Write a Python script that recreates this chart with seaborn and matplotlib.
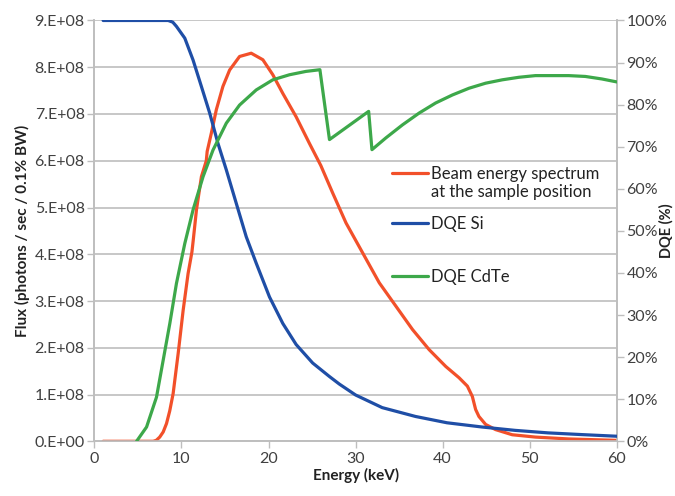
import matplotlib
matplotlib.use("Agg")
import matplotlib.pyplot as plt
import seaborn as sns
import numpy as np
from matplotlib.ticker import FuncFormatter, MultipleLocator
from matplotlib.lines import Line2D
from matplotlib.legend_handler import HandlerLine2D

# ---- data ----
beam_E = [1, 6.75, 7.1, 7.5, 7.9, 8.28, 8.65, 9.04, 9.62, 10.19, 10.76, 11.2, 11.35, 11.72,
          12.29, 12.85, 12.95, 13.43, 14.0, 14.76, 15.53, 16.67, 18.01, 19.35, 20.49, 21.64,
          23.17, 24.7, 26.0, 27.37, 28.9, 30.81, 32.72, 34.63, 36.54, 38.45, 40.36, 41.88,
          42.84, 43.41, 43.79, 44.17, 44.94, 46.08, 47.99, 50.66, 54.48, 60.0]
beam_flux = [0, 0, 0.02, 0.09, 0.2, 0.38, 0.65, 1.02, 1.88, 2.8, 3.59, 4.05, 4.3, 4.95,
             5.66, 6.0, 6.2, 6.59, 7.09, 7.59, 7.94, 8.23, 8.30, 8.16, 7.84, 7.44,
             6.94, 6.37, 5.9, 5.31, 4.67, 4.03, 3.39, 2.89, 2.39, 1.96, 1.60, 1.36,
             1.18, 0.96, 0.68, 0.53, 0.36, 0.25, 0.14, 0.09, 0.05, 0.02]  # in units of 1e8

si_E = [1, 8.47, 9.0, 9.42, 10.38, 11.33, 12.29, 13.24, 14.19, 15.15, 16.3, 17.44, 18.59,
        20.11, 21.64, 23.17, 25.07, 26.99, 28.13, 30.0, 33.06, 36.88, 40.5, 44.5, 48.3, 52.1,
        55.9, 60.0]
si_dqe = [100, 100, 99.6, 98.6, 95.8, 90.6, 84.3, 78.0, 70.8, 64.5, 56.5, 48.6, 42.3,
          34.3, 28.0, 23.0, 18.6, 15.4, 13.6, 11.0, 8.0, 5.9, 4.4, 3.4, 2.6, 2.0,
          1.6, 1.2]

cdte_E = [4.84, 5.99, 7.13, 7.9, 8.66, 9.42, 10.38, 11.33, 12.48, 13.62, 15.15, 16.67, 18.59,
          20.49, 22.4, 24.3, 25.9, 27.0, 31.5, 31.88, 33.48, 35.39, 37.3, 39.2, 41.12, 43.03,
          44.94, 46.85, 48.75, 50.66, 52.57, 54.48, 56.39, 58.3, 60.0]
cdte_dqe = [0, 3.4, 10.5, 19.3, 28.0, 37.5, 47.0, 55.0, 62.9, 69.2, 75.6, 79.9, 83.5,
            85.9, 87.1, 87.9, 88.3, 71.7, 78.4, 69.3, 72.1, 75.2, 78.0, 80.4, 82.3, 83.9,
            85.1, 85.9, 86.5, 86.9, 86.9, 86.9, 86.7, 86.1, 85.4]

x_ticks = [0, 10, 20, 30, 40, 50, 60]
labels = ["Beam energy spectrum\nat the sample position", "DQE Si", "DQE CdTe"]

RED = "#F2502A"
BLUE = "#1F4EA6"
GREEN = "#3DA84A"
GRID = "#BEBEBE"
TXT = "#404040"
LAB = "#222222"
LW = 2.3

sns.set_theme(style="white")
plt.rcParams["font.family"] = ["Lato", "DejaVu Sans"]

fig = plt.figure(figsize=(6.75, 4.96), dpi=100)
ax = fig.add_axes([0.1399, 0.1103, 0.7738, 0.8484])
ax2 = ax.twinx()

flux = np.array(beam_flux) * 1e8
sns.lineplot(x=beam_E, y=flux, ax=ax, color=RED, lw=LW, sort=False, zorder=3)
sns.lineplot(x=si_E, y=si_dqe, ax=ax2, color=BLUE, lw=LW, sort=False, zorder=3)
sns.lineplot(x=cdte_E, y=cdte_dqe, ax=ax2, color=GREEN, lw=LW, sort=False, zorder=3)

ax.set_xlim(0, 60)
ax.set_ylim(0, 9e8)
ax2.set_ylim(0, 100)
ax.set_xticks(x_ticks)
ax.yaxis.set_major_locator(MultipleLocator(1e8))
ax2.yaxis.set_major_locator(MultipleLocator(10))

def sci(v, pos):
    if abs(v) < 1:
        return "0.E+00"
    return f"{v / 1e8:.0f}.E+08"
ax.yaxis.set_major_formatter(FuncFormatter(sci))
ax2.yaxis.set_major_formatter(FuncFormatter(lambda v, p: f"{v:.0f}%"))

ax.grid(axis="y", color=GRID, lw=1.2)
ax.grid(axis="x", visible=False)
ax2.grid(False)

for a in (ax, ax2):
    a.spines["top"].set_visible(False)
    for s in ["left", "right", "bottom"]:
        a.spines[s].set_color(GRID)
        a.spines[s].set_linewidth(1.2)
    a.tick_params(colors=TXT, labelsize=11.5, length=5, width=1.0)
    a.tick_params(axis="both", color=GRID)
ax.tick_params(axis="y", left=True, right=False, pad=2)
ax.tick_params(axis="x", bottom=True, pad=3)
ax2.tick_params(axis="y", right=True, pad=2)

ax.set_xlabel("Energy (keV)", fontsize=11, fontweight="bold", color=LAB, labelpad=1)
ax.set_ylabel("Flux (photons / sec / 0.1% BW)", fontsize=11, fontweight="bold", color=LAB, labelpad=3)
ax2.set_ylabel("DQE (%)", fontsize=10.5, fontweight="bold", color=LAB)
ax2.yaxis.set_label_coords(1.081, 0.5)


class FirstLineHandler(HandlerLine2D):
    def __init__(self, dy=0, **kw):
        super().__init__(**kw)
        self.dy = dy

    def create_artists(self, legend, orig_handle, xdescent, ydescent, width, height,
                       fontsize, trans):
        arts = super().create_artists(legend, orig_handle, xdescent, ydescent, width,
                                      height, fontsize, trans)
        for a in arts:
            a.set_ydata(np.asarray(a.get_ydata(), dtype=float) + self.dy)
        return arts


h_red = Line2D([0], [0], color=RED, lw=LW)
h_blue = Line2D([0], [0], color=BLUE, lw=LW)
h_green = Line2D([0], [0], color=GREEN, lw=LW)
LEGX = 0.547
leg1 = ax2.legend([h_red, h_blue], labels[:2], loc="upper left", bbox_to_anchor=(LEGX, 0.683),
                  frameon=False, fontsize=12, handlelength=2.2, handletextpad=0.15,
                  labelspacing=0.95, borderpad=0.2, labelcolor=LAB,
                  handler_map={h_red: FirstLineHandler(dy=7.5)})
ax2.add_artist(leg1)
ax2.legend([h_green], labels[2:], loc="upper left", bbox_to_anchor=(LEGX, 0.438),
           frameon=False, fontsize=12, handlelength=2.2, handletextpad=0.15,
           borderpad=0.2, labelcolor=LAB)

fig.savefig("out.png", dpi=100, facecolor="white")
